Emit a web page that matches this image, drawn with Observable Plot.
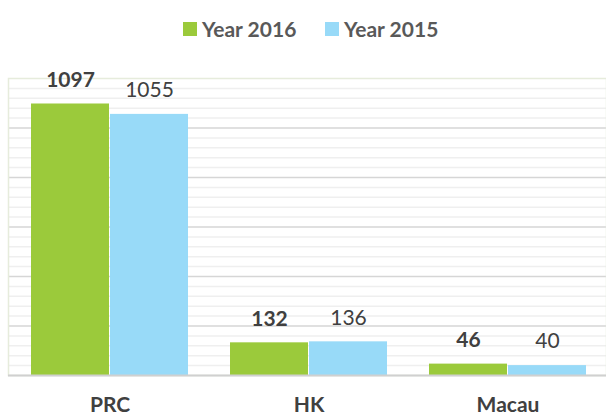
<!DOCTYPE html>
<html>
<head>
<meta charset="utf-8">
<script src="https://cdn.jsdelivr.net/npm/d3@7"></script>
<script src="https://cdn.jsdelivr.net/npm/@observablehq/plot@0.6"></script>
<style>
  html, body { margin: 0; padding: 0; background: #fff; overflow: hidden; }
  body { width: 606px; height: 414px; font-family: Lato, "Open Sans", sans-serif; }
  #legend { height: 56px; position: relative; }
  .item { position: absolute; top: 16px; display: flex; align-items: center; font-weight: bold; font-size: 21px; color: #595959; }
  .sw { width: 14px; height: 14px; margin-right: 5px; }
  svg { display: block; }
</style>
</head>
<body>
<div id="legend"></div>
<div id="chart"></div>
<script>
const categories = ["PRC", "HK", "Macau"];
const year2016 = [1097, 132, 46];
const year2015 = [1055, 136, 40];
const seriesNames = ["Year 2016", "Year 2015"];
const seriesColors = ["#9bca3b", "#98daf8"];
const yMax = 1200;
const majorStep = 200;
const minorStep = 40;

const majorTicks = d3.range(majorStep, yMax, majorStep);
const minorTicks = d3.range(minorStep, yMax, minorStep).filter(v => v % majorStep !== 0);

const d16 = categories.map((c, i) => ({cat: c, value: year2016[i]}));
const d15 = categories.map((c, i) => ({cat: c, value: year2015[i]}));

// legend
const legend = document.getElementById("legend");
const legendX = [183, 325];
seriesNames.forEach((name, i) => {
  const item = document.createElement("div");
  item.className = "item";
  item.style.left = legendX[i] + "px";
  item.innerHTML = `<span class="sw" style="background:${seriesColors[i]}"></span><span>${name}</span>`;
  legend.appendChild(item);
});

const half = 79;
const chart = Plot.plot({
  width: 606,
  height: 358,
  marginTop: 22,
  marginBottom: 39,
  marginLeft: 8,
  marginRight: 0,
  style: {fontFamily: "Lato, 'Open Sans', sans-serif", background: "#fff"},
  x: {domain: categories, range: [10, 608], paddingInner: 0.21, paddingOuter: 0.1, axis: null},
  y: {domain: [0, yMax], axis: null},
  marks: [
    Plot.ruleY(minorTicks, {stroke: "#efefef", strokeWidth: 1.5}),
    Plot.ruleY(majorTicks, {stroke: "#d6d6d6", strokeWidth: 1.5}),
    Plot.frame({stroke: "#e6ecdc", strokeWidth: 1.5}),
    Plot.barY(d16, {x: "cat", y: "value", fill: seriesColors[0], insetRight: half}),
    Plot.barY(d15, {x: "cat", y: "value", fill: seriesColors[1], insetLeft: half}),
    Plot.ruleY([0], {stroke: "#d0d0d0", strokeWidth: 2}),
    Plot.text(d16, {x: "cat", y: "value", text: d => String(d.value), dx: -half / 2, dy: -24, fontSize: 21, fontWeight: "bold", fill: "#404040"}),
    Plot.text(d15, {x: "cat", y: "value", text: d => String(d.value), dx: half / 2, dy: -24, fontSize: 21, fill: "#404040"}),
    Plot.text(categories, {x: d => d, text: d => d, frameAnchor: "bottom", dy: 36, fontSize: 21, fontWeight: "bold", fill: "#404040"})
  ]
});
document.getElementById("chart").appendChild(chart);
</script>
</body>
</html>
